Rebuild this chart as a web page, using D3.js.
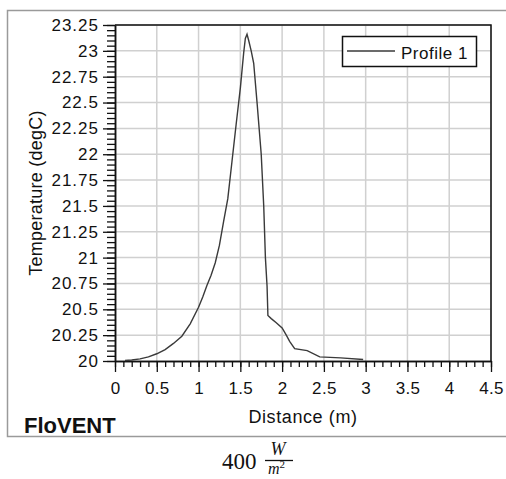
<!DOCTYPE html>
<html>
<head>
<meta charset="utf-8">
<script src="https://cdn.jsdelivr.net/npm/d3@7"></script>
<style>
  body { margin: 0; background: #fff; }
  text { font-family: "Liberation Sans", Arial, sans-serif; fill: #111; }
</style>
</head>
<body>
<div id="chart"></div>
<script>
// profile values
var distance = [0.12, 0.2, 0.3, 0.4, 0.5, 0.6, 0.7, 0.8, 0.9, 1.0, 1.05, 1.1, 1.15, 1.2, 1.25,
  1.3, 1.35, 1.4, 1.45, 1.5, 1.54, 1.56, 1.58, 1.6, 1.63, 1.66, 1.7, 1.75, 1.78, 1.8, 1.82,
  1.83, 1.87, 1.93, 2.0, 2.05, 2.09, 2.15, 2.3, 2.45, 2.7, 2.97];
var temperature = [20.005, 20.01, 20.02, 20.04, 20.07, 20.11, 20.17, 20.24, 20.36, 20.52, 20.62,
  20.73, 20.83, 20.95, 21.12, 21.35, 21.57, 21.93, 22.29, 22.64, 22.98, 23.12, 23.16, 23.1, 23.0,
  22.88, 22.5, 22.0, 21.5, 21.0, 20.72, 20.44, 20.41, 20.37, 20.32, 20.25, 20.19, 20.12, 20.1,
  20.04, 20.03, 20.015];
var xTicks = [0, 0.5, 1, 1.5, 2, 2.5, 3, 3.5, 4, 4.5];
var yTicks = [20, 20.25, 20.5, 20.75, 21, 21.25, 21.5, 21.75, 22, 22.25, 22.5, 22.75, 23, 23.25];
var seriesName = "Profile 1";

var width = 506, height = 479;
var plot = {left: 115, right: 491, top: 25, bottom: 361};

var svg = d3.select("#chart")
  .append("svg")
    .attr("width", width)
    .attr("height", height);

// outer frame
svg.append("rect")
  .attr("x", 7.5).attr("y", 10.5)
  .attr("width", 520).attr("height", 426)
  .attr("fill", "none")
  .attr("stroke", "#9a9a9a")
  .attr("stroke-width", 1.5);

var x = d3.scaleLinear().domain([0, 4.5]).range([plot.left, plot.right]);
var y = d3.scaleLinear().domain([20, 23.25]).range([plot.bottom, plot.top]);

// grid
svg.append("g").selectAll("line")
  .data(xTicks.slice(1))
  .enter().append("line")
    .attr("x1", function(d) { return x(d); })
    .attr("x2", function(d) { return x(d); })
    .attr("y1", plot.top).attr("y2", plot.bottom)
    .attr("stroke", "#d0d0d0").attr("stroke-width", 1.5);
svg.append("g").selectAll("line")
  .data(yTicks.slice(1))
  .enter().append("line")
    .attr("x1", plot.left).attr("x2", plot.right)
    .attr("y1", function(d) { return y(d); })
    .attr("y2", function(d) { return y(d); })
    .attr("stroke", "#d0d0d0").attr("stroke-width", 1.5);

// minor ticks
var xMinor = d3.range(0, 4.5001, 0.1);
var yMinor = d3.range(20, 23.2501, 0.05);

svg.append("g")
  .attr("transform", "translate(0," + plot.bottom + ")")
  .call(d3.axisBottom(x).tickValues(xMinor).tickSize(6).tickSizeOuter(0).tickFormat(""));
svg.append("g")
  .attr("transform", "translate(" + plot.left + ",0)")
  .call(d3.axisLeft(y).tickValues(yMinor).tickSize(8).tickSizeOuter(0).tickFormat(""));

// major ticks + labels
var xAxis = svg.append("g")
  .attr("transform", "translate(0," + plot.bottom + ")")
  .call(d3.axisBottom(x).tickValues(xTicks).tickSize(11).tickPadding(10).tickSizeOuter(0)
    .tickFormat(function(d) { return d; }));
var yAxis = svg.append("g")
  .attr("transform", "translate(" + plot.left + ",0)")
  .call(d3.axisLeft(y).tickValues(yTicks).tickSize(12).tickPadding(4).tickSizeOuter(0)
    .tickFormat(function(d) { return d; }));

svg.selectAll(".tick line").attr("stroke", "#111").attr("stroke-width", 1.3);
svg.selectAll(".domain").attr("stroke", "#111").attr("stroke-width", 1.5);
svg.selectAll(".tick text")
  .attr("font-family", "Liberation Sans, Arial, sans-serif")
  .attr("fill", "#111");
xAxis.selectAll(".tick text").attr("font-size", 17).attr("letter-spacing", 0.3);
yAxis.selectAll(".tick text").attr("font-size", 17).attr("letter-spacing", 1);

// top and right borders
svg.append("path")
  .attr("d", "M" + plot.left + "," + plot.top + "H" + plot.right + "V" + plot.bottom)
  .attr("fill", "none").attr("stroke", "#111").attr("stroke-width", 1.5);

// the profile line
var points = distance.map(function(d, i) { return [d, temperature[i]]; });
var line = d3.line()
  .x(function(d) { return x(d[0]); })
  .y(function(d) { return y(d[1]); });
svg.append("path")
  .datum(points)
  .attr("d", line)
  .attr("fill", "none")
  .attr("stroke", "#3a3a3a")
  .attr("stroke-width", 1.4);

// legend
var legend = svg.append("g");
legend.append("rect")
  .attr("x", 342.5).attr("y", 36.5).attr("width", 134).attr("height", 30)
  .attr("fill", "#fff").attr("stroke", "#111").attr("stroke-width", 1.5);
legend.append("line")
  .attr("x1", 347).attr("x2", 395).attr("y1", 51).attr("y2", 51)
  .attr("stroke", "#3a3a3a").attr("stroke-width", 1.4);
legend.append("text")
  .attr("x", 401).attr("y", 59)
  .attr("font-size", 17).attr("letter-spacing", 0.5)
  .text(seriesName);

// axis titles
svg.append("text")
  .attr("x", (plot.left + plot.right) / 2).attr("y", 423)
  .attr("text-anchor", "middle")
  .attr("font-size", 18).attr("letter-spacing", 0.6)
  .text("Distance (m)");
svg.append("text")
  .attr("transform", "translate(42," + ((plot.top + plot.bottom) / 2) + ") rotate(-90)")
  .attr("text-anchor", "middle")
  .attr("font-size", 18).attr("letter-spacing", 0.25)
  .text("Temperature (degC)");

// brand
svg.append("text")
  .attr("x", 24).attr("y", 433)
  .attr("font-size", 22).attr("font-weight", "bold")
  .text("FloVENT");

// caption below: 400 W/m²
var cap = svg.append("g");
cap.append("text")
  .attr("x", 222).attr("y", 469)
  .attr("font-size", 23)
  .style("font-family", "Liberation Serif, serif")
  .text("400");
cap.append("text")
  .attr("x", 278).attr("y", 455)
  .attr("text-anchor", "middle")
  .attr("font-size", 18).attr("font-style", "italic")
  .style("font-family", "Liberation Serif, serif")
  .text("W");
cap.append("line")
  .attr("x1", 265).attr("x2", 293).attr("y1", 460.5).attr("y2", 460.5)
  .attr("stroke", "#111").attr("stroke-width", 1.3);
var den = cap.append("text")
  .attr("x", 268).attr("y", 474)
  .attr("font-size", 16)
  .style("font-family", "Liberation Serif, serif");
den.append("tspan").attr("font-style", "italic").text("m");
den.append("tspan").attr("font-size", 11).attr("dy", -6).text("2");
</script>
</body>
</html>
